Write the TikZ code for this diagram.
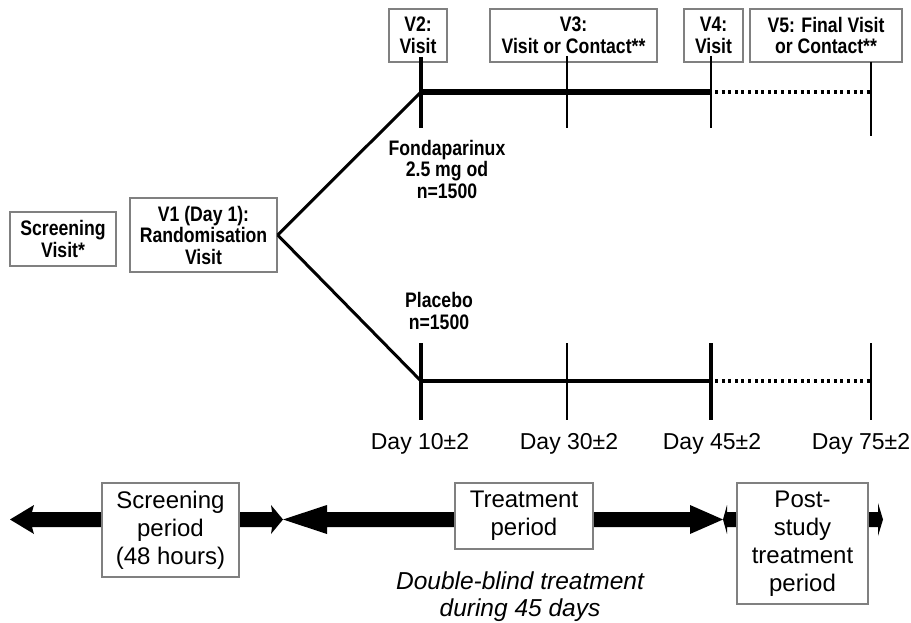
\documentclass[tikz,border=0pt]{standalone}
\usepackage{fontspec}
\setmainfont{Liberation Sans}
\newfontfamily\nbf[FakeStretch=0.84]{Liberation Sans}
\definecolor{boxgray}{HTML}{808080}
\begin{document}
\begin{tikzpicture}[x=1pt,y=-1pt,
  box/.style={draw=boxgray, line width=1.3pt, inner sep=0pt, align=center, fill=white},
  topbox/.style={box, font=\fontsize{21}{21.5}\selectfont\nbf\bfseries},
  lbl/.style={inner sep=0pt, align=center, font=\fontsize{21}{21.5}\selectfont\nbf\bfseries},
  botbox/.style={box, font=\fontsize{24}{28}\selectfont},
  daylbl/.style={inner sep=0pt, font=\fontsize{23}{27}\selectfont},
  arm/.style={line width=3pt},
  mainline/.style={line width=5.5pt},
  lowline/.style={line width=4.5pt},
  tickthick/.style={line width=3.5pt},
  tickthin/.style={line width=2pt},
  dotline/.style={line width=3.2pt, dash pattern=on 3pt off 3.6pt}
]
\useasboundingbox (0,0) rectangle (911,623);

% bottom period arrows
\fill (10,519.5) -- (34,505) -- (32,512) -- (103,512) -- (103,527) -- (32,527) -- (34,534) -- cycle;
\fill (239,512) -- (272,512) -- (271,505) -- (283,519.5) -- (271,534) -- (272,527) -- (239,527) -- cycle;
\fill (283,519.5) -- (327,505) -- (327,512) -- (456,512) -- (456,527) -- (327,527) -- (327,534) -- cycle;
\fill (593,512) -- (690,512) -- (690,505) -- (723,519.5) -- (690,534) -- (690,527) -- (593,527) -- cycle;
\fill (723,519.5) -- (727,505) -- (727,512) -- (738,512) -- (738,527) -- (727,527) -- (727,534) -- cycle;
\fill (868,512) -- (878,512) -- (878,503) -- (883,519.5) -- (878,536) -- (878,527) -- (868,527) -- cycle;

% boxes on the left
\node[topbox, minimum width=106pt, minimum height=54pt] (scr) at (63,239) {Screening\\Visit*};
\node[topbox, minimum width=147pt, minimum height=74pt] (v1) at (203.5,235) {V1 (Day 1):\\Randomisation\\Visit};

% top visit boxes
\node[topbox, minimum width=58pt, minimum height=53pt] (v2) at (418,35.5) {V2:\\Visit};
\node[topbox, minimum width=167pt, minimum height=53pt] (v3) at (573.5,35.5) {V3:\\Visit or Contact**};
\node[topbox, minimum width=59pt, minimum height=53pt] (v4) at (713.5,35.5) {V4:\\Visit};
\node[topbox, minimum width=152pt, minimum height=53pt] (v5) at (826,35.5) {V5: Final Visit\\or Contact**};

% timeline coordinates
\coordinate (ua) at (421,92);
\coordinate (ub) at (567,92);
\coordinate (uc) at (711,92);
\coordinate (ud) at (871,92);
\coordinate (la) at (421,381);
\coordinate (lb) at (567,381);
\coordinate (lc) at (711,381);
\coordinate (ld) at (871,381);

% branches
\draw[arm] (v1.east) -- (ua);
\draw[arm] (v1.east) -- (la);

% upper arm
\draw[mainline] (ua) -- (uc);
\draw[dotline] ([xshift=4pt]uc) -- (ud);
\draw[tickthick] (421,57) -- (421,128);
\draw[tickthin] (567,56) -- (567,128);
\draw[tickthin, line width=2.4pt] (711,56) -- (711,128);
\draw[tickthin] (871,62) -- (871,136);

% lower arm
\draw[lowline] (la) -- (lc);
\draw[dotline] ([xshift=4pt]lc) -- (ld);
\draw[tickthick] (421,343) -- (421,420);
\draw[tickthin] (567,343) -- (567,420);
\draw[tickthick] (711,343) -- (711,420);
\draw[tickthin] (871,343) -- (871,420);

% arm labels
\node[lbl] (fonda) at (447,169) {Fondaparinux\\2.5 mg od\\n=1500};
\node[lbl] (plac) at (439,311) {Placebo\\n=1500};

% day labels
\node[daylbl] (d10) at (420,444) {Day 10±2};
\node[daylbl] (d30) at (569,444) {Day 30±2};
\node[daylbl] (d45) at (712,444) {Day 45±2};
\node[daylbl] (d75) at (861,444) {Day 75±2};

% period boxes
\node[botbox, minimum width=137pt, minimum height=94pt] (sp) at (170.5,530) {Screening\\period\\(48 hours)};
\node[botbox, minimum width=138pt, minimum height=66pt] (tp) at (524,516) {Treatment\\period};
\node[botbox, minimum width=131pt, minimum height=121pt] (pp) at (802.5,543.5) {Post-\\study\\treatment\\period};

\node[inner sep=0pt, align=center, font=\fontsize{24.5}{27}\selectfont\itshape] (db) at (520,596.5) {Double-blind treatment\\during 45 days};
\end{tikzpicture}
\end{document}
